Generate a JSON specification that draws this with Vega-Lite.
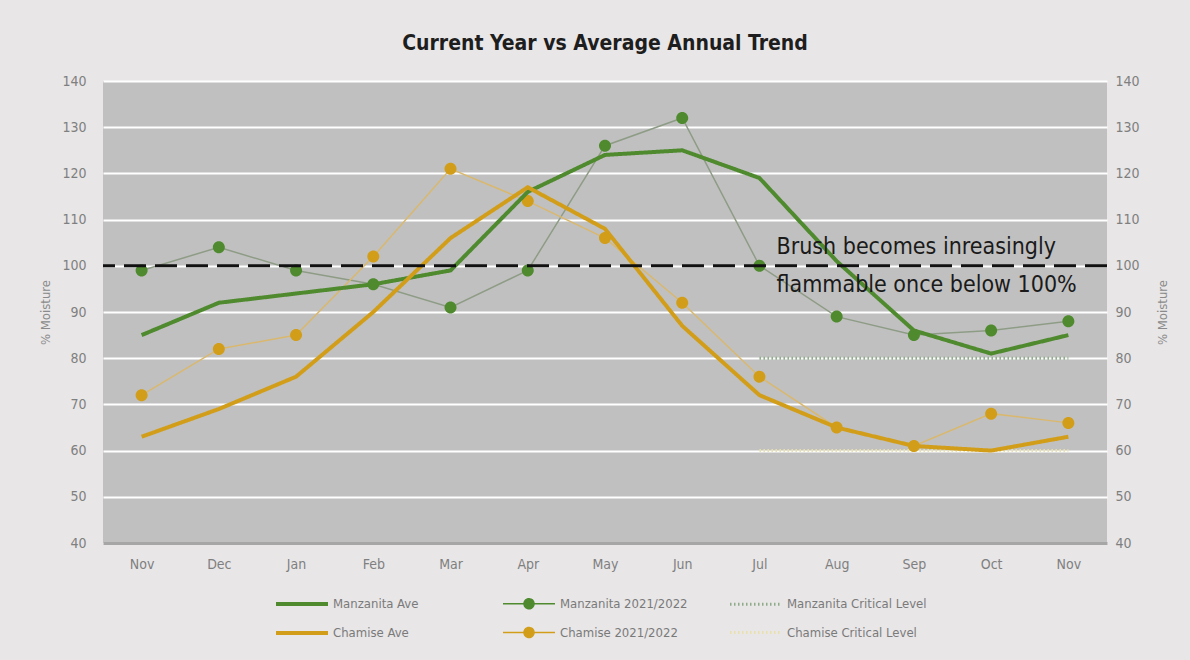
{
  "$schema": "https://vega.github.io/schema/vega-lite/v6.json",
  "width": 1004,
  "height": 462,
  "autosize": {"type": "none"},
  "padding": {"left": 103, "top": 81, "right": 83, "bottom": 117},
  "background": "#e8e6e7",
  "title": {"text": "Current Year vs Average Annual Trend", "font": "DejaVu Sans Condensed, Roboto, sans-serif", "fontSize": 21, "fontWeight": "bold", "color": "#1e1e1e", "frame": "group", "offset": 20, "anchor": "middle"},
  "config": {"view": {"fill": "#c0c0c0", "stroke": null}, "font": "DejaVu Sans Condensed, Roboto, sans-serif"},
  "data": {"values": [
    {"m": "Nov21", "series": "Manzanita Ave", "v": 85},
    {"m": "Dec", "series": "Manzanita Ave", "v": 92},
    {"m": "Jan", "series": "Manzanita Ave", "v": 94},
    {"m": "Feb", "series": "Manzanita Ave", "v": 96},
    {"m": "Mar", "series": "Manzanita Ave", "v": 99},
    {"m": "Apr", "series": "Manzanita Ave", "v": 116},
    {"m": "May", "series": "Manzanita Ave", "v": 124},
    {"m": "Jun", "series": "Manzanita Ave", "v": 125},
    {"m": "Jul", "series": "Manzanita Ave", "v": 119},
    {"m": "Aug", "series": "Manzanita Ave", "v": 101},
    {"m": "Sep", "series": "Manzanita Ave", "v": 86},
    {"m": "Oct", "series": "Manzanita Ave", "v": 81},
    {"m": "Nov22", "series": "Manzanita Ave", "v": 85},
    {"m": "Nov21", "series": "Manzanita 2021/2022", "v": 99},
    {"m": "Dec", "series": "Manzanita 2021/2022", "v": 104},
    {"m": "Jan", "series": "Manzanita 2021/2022", "v": 99},
    {"m": "Feb", "series": "Manzanita 2021/2022", "v": 96},
    {"m": "Mar", "series": "Manzanita 2021/2022", "v": 91},
    {"m": "Apr", "series": "Manzanita 2021/2022", "v": 99},
    {"m": "May", "series": "Manzanita 2021/2022", "v": 126},
    {"m": "Jun", "series": "Manzanita 2021/2022", "v": 132},
    {"m": "Jul", "series": "Manzanita 2021/2022", "v": 100},
    {"m": "Aug", "series": "Manzanita 2021/2022", "v": 89},
    {"m": "Sep", "series": "Manzanita 2021/2022", "v": 85},
    {"m": "Oct", "series": "Manzanita 2021/2022", "v": 86},
    {"m": "Nov22", "series": "Manzanita 2021/2022", "v": 88},
    {"m": "Nov21", "series": "Chamise Ave", "v": 63},
    {"m": "Dec", "series": "Chamise Ave", "v": 69},
    {"m": "Jan", "series": "Chamise Ave", "v": 76},
    {"m": "Feb", "series": "Chamise Ave", "v": 90},
    {"m": "Mar", "series": "Chamise Ave", "v": 106},
    {"m": "Apr", "series": "Chamise Ave", "v": 117},
    {"m": "May", "series": "Chamise Ave", "v": 108},
    {"m": "Jun", "series": "Chamise Ave", "v": 87},
    {"m": "Jul", "series": "Chamise Ave", "v": 72},
    {"m": "Aug", "series": "Chamise Ave", "v": 65},
    {"m": "Sep", "series": "Chamise Ave", "v": 61},
    {"m": "Oct", "series": "Chamise Ave", "v": 60},
    {"m": "Nov22", "series": "Chamise Ave", "v": 63},
    {"m": "Nov21", "series": "Chamise 2021/2022", "v": 72},
    {"m": "Dec", "series": "Chamise 2021/2022", "v": 82},
    {"m": "Jan", "series": "Chamise 2021/2022", "v": 85},
    {"m": "Feb", "series": "Chamise 2021/2022", "v": 102},
    {"m": "Mar", "series": "Chamise 2021/2022", "v": 121},
    {"m": "Apr", "series": "Chamise 2021/2022", "v": 114},
    {"m": "May", "series": "Chamise 2021/2022", "v": 106},
    {"m": "Jun", "series": "Chamise 2021/2022", "v": 92},
    {"m": "Jul", "series": "Chamise 2021/2022", "v": 76},
    {"m": "Aug", "series": "Chamise 2021/2022", "v": 65},
    {"m": "Sep", "series": "Chamise 2021/2022", "v": 61},
    {"m": "Oct", "series": "Chamise 2021/2022", "v": 68},
    {"m": "Nov22", "series": "Chamise 2021/2022", "v": 66},
    {"m": "Jul", "series": "Manzanita Critical Level", "v": 80},
    {"m": "Aug", "series": "Manzanita Critical Level", "v": 80},
    {"m": "Sep", "series": "Manzanita Critical Level", "v": 80},
    {"m": "Oct", "series": "Manzanita Critical Level", "v": 80},
    {"m": "Nov22", "series": "Manzanita Critical Level", "v": 80},
    {"m": "Jul", "series": "Chamise Critical Level", "v": 60},
    {"m": "Aug", "series": "Chamise Critical Level", "v": 60},
    {"m": "Sep", "series": "Chamise Critical Level", "v": 60},
    {"m": "Oct", "series": "Chamise Critical Level", "v": 60},
    {"m": "Nov22", "series": "Chamise Critical Level", "v": 60}
  ]},
  "layer": [
    {
      "encoding": {
        "y": {"field": "v", "type": "quantitative",
          "scale": {"domain": [40, 140], "nice": false, "zero": false},
          "axis": {"orient": "left", "title": "% Moisture", "values": [40, 50, 60, 70, 80, 90, 100, 110, 120, 130, 140],
            "labelFontSize": 14, "labelColor": "#7f7f7f", "labelPadding": 17, "ticks": false, "domain": false,
            "grid": true, "gridColor": "#ffffff", "gridWidth": 2,
            "titleFontSize": 13, "titleColor": "#8a8a8a", "titleFontWeight": "normal", "titlePadding": 9}}
      },
      "layer": [
        {
          "transform": [{"filter": {"field": "series", "oneOf": ["Manzanita Critical Level", "Chamise Critical Level"]}}],
          "mark": {"type": "line"},
          "encoding": {
            "x": {"field": "m", "type": "ordinal", "scale": {"type": "point", "padding": 0.5, "domain": ["Nov21", "Dec", "Jan", "Feb", "Mar", "Apr", "May", "Jun", "Jul", "Aug", "Sep", "Oct", "Nov22"]},
              "axis": {"title": null, "labelFontSize": 14, "labelColor": "#7f7f7f", "labelAngle": 0, "ticks": false, "domainColor": "#a6a6a6", "domainWidth": 3, "labelPadding": 14, "labelExpr": "slice(datum.label, 0, 3)", "grid": false}},
            "color": {"field": "series", "type": "nominal",
              "scale": {"domain": ["Manzanita Ave", "Manzanita 2021/2022", "Manzanita Critical Level", "Chamise Ave", "Chamise 2021/2022", "Chamise Critical Level"],
                "range": ["#4f8a2f", "#4f8a2f", "#8dab88", "#d29e1a", "#d29e1a", "#e9e1ac"]},
              "legend": {"orient": "none", "legendX": 171, "legendY": 516, "columns": 3, "title": null, "direction": "horizontal",
                "labelFontSize": 13, "labelColor": "#7a7a7a", "symbolSize": 100, "symbolOffset": 21, "labelOffset": 24,
                "columnPadding": 24, "rowPadding": 12, "gridAlign": "all"}},
            "strokeDash": {"field": "series", "type": "nominal",
              "scale": {"type": "ordinal", "domain": ["Manzanita Ave", "Manzanita 2021/2022", "Manzanita Critical Level", "Chamise Ave", "Chamise 2021/2022", "Chamise Critical Level"],
                "range": [[1, 0], [1, 0], [1.5, 2.5], [1, 0], [1, 0], [1.5, 2.5]]},
              "legend": {"orient": "none", "legendX": 171, "legendY": 516, "columns": 3, "title": null, "direction": "horizontal",
                "labelFontSize": 13, "labelColor": "#7a7a7a", "symbolSize": 100, "symbolOffset": 21, "labelOffset": 24,
                "columnPadding": 24, "rowPadding": 12, "gridAlign": "all"}},
            "strokeWidth": {"field": "series", "type": "nominal",
              "scale": {"type": "ordinal", "domain": ["Manzanita Ave", "Manzanita 2021/2022", "Manzanita Critical Level", "Chamise Ave", "Chamise 2021/2022", "Chamise Critical Level"],
                "range": [4, 1.5, 3, 4, 1.5, 3]},
              "legend": {"orient": "none", "legendX": 171, "legendY": 516, "columns": 3, "title": null, "direction": "horizontal",
                "labelFontSize": 13, "labelColor": "#7a7a7a", "symbolSize": 100, "symbolOffset": 21, "labelOffset": 24,
                "columnPadding": 24, "rowPadding": 12, "gridAlign": "all"}}
          }
        },
        {
          "transform": [{"filter": {"field": "series", "oneOf": ["Manzanita 2021/2022", "Chamise 2021/2022"]}}],
          "mark": {"type": "line", "strokeWidth": 1.5},
          "encoding": {
            "x": {"field": "m", "type": "ordinal", "scale": {"type": "point", "padding": 0.5, "domain": ["Nov21", "Dec", "Jan", "Feb", "Mar", "Apr", "May", "Jun", "Jul", "Aug", "Sep", "Oct", "Nov22"]}},
            "stroke": {"field": "series", "type": "nominal", "scale": {"domain": ["Manzanita 2021/2022", "Chamise 2021/2022"], "range": ["#8e9c86", "#d9b86e"]}, "legend": null}
          }
        },
        {
          "transform": [{"filter": {"field": "series", "oneOf": ["Manzanita 2021/2022", "Chamise 2021/2022"]}}],
          "mark": {"type": "point", "filled": true, "size": 144, "opacity": 1},
          "encoding": {
            "x": {"field": "m", "type": "ordinal", "scale": {"type": "point", "padding": 0.5, "domain": ["Nov21", "Dec", "Jan", "Feb", "Mar", "Apr", "May", "Jun", "Jul", "Aug", "Sep", "Oct", "Nov22"]}},
            "color": {"field": "series", "type": "nominal",
              "scale": {"domain": ["Manzanita Ave", "Manzanita 2021/2022", "Manzanita Critical Level", "Chamise Ave", "Chamise 2021/2022", "Chamise Critical Level"],
                "range": ["#4f8a2f", "#4f8a2f", "#8dab88", "#d29e1a", "#d29e1a", "#e9e1ac"]},
              "legend": {"orient": "none", "legendX": 171, "legendY": 516, "columns": 3, "title": null, "direction": "horizontal",
                "labelFontSize": 13, "labelColor": "#7a7a7a", "symbolSize": 100, "symbolOffset": 21, "labelOffset": 24,
                "columnPadding": 24, "rowPadding": 12, "gridAlign": "all"}},
            "shape": {"field": "series", "type": "nominal",
              "scale": {"domain": ["Manzanita Ave", "Manzanita 2021/2022", "Manzanita Critical Level", "Chamise Ave", "Chamise 2021/2022", "Chamise Critical Level"],
                "range": ["M-5.2,0H5.2", "M-5.2,0H5.2M1,0A1,1,0,1,1,-1,0A1,1,0,1,1,1,0Z", "M-5.2,0H5.2", "M-5.2,0H5.2", "M-5.2,0H5.2M1,0A1,1,0,1,1,-1,0A1,1,0,1,1,1,0Z", "M-5.2,0H5.2"]},
              "legend": {"orient": "none", "legendX": 171, "legendY": 516, "columns": 3, "title": null, "direction": "horizontal",
                "labelFontSize": 13, "labelColor": "#7a7a7a", "symbolSize": 100, "symbolOffset": 21, "labelOffset": 24,
                "columnPadding": 24, "rowPadding": 12, "gridAlign": "all"}}
          }
        },
        {
          "transform": [{"filter": {"field": "series", "oneOf": ["Manzanita Ave", "Chamise Ave"]}}],
          "mark": {"type": "line"},
          "encoding": {
            "x": {"field": "m", "type": "ordinal", "scale": {"type": "point", "padding": 0.5, "domain": ["Nov21", "Dec", "Jan", "Feb", "Mar", "Apr", "May", "Jun", "Jul", "Aug", "Sep", "Oct", "Nov22"]}},
            "color": {"field": "series", "type": "nominal",
              "scale": {"domain": ["Manzanita Ave", "Manzanita 2021/2022", "Manzanita Critical Level", "Chamise Ave", "Chamise 2021/2022", "Chamise Critical Level"],
                "range": ["#4f8a2f", "#4f8a2f", "#8dab88", "#d29e1a", "#d29e1a", "#e9e1ac"]},
              "legend": {"orient": "none", "legendX": 171, "legendY": 516, "columns": 3, "title": null, "direction": "horizontal",
                "labelFontSize": 13, "labelColor": "#7a7a7a", "symbolSize": 100, "symbolOffset": 21, "labelOffset": 24,
                "columnPadding": 24, "rowPadding": 12, "gridAlign": "all"}},
            "strokeDash": {"field": "series", "type": "nominal",
              "scale": {"type": "ordinal", "domain": ["Manzanita Ave", "Manzanita 2021/2022", "Manzanita Critical Level", "Chamise Ave", "Chamise 2021/2022", "Chamise Critical Level"],
                "range": [[1, 0], [1, 0], [1.5, 2.5], [1, 0], [1, 0], [1.5, 2.5]]},
              "legend": {"orient": "none", "legendX": 171, "legendY": 516, "columns": 3, "title": null, "direction": "horizontal",
                "labelFontSize": 13, "labelColor": "#7a7a7a", "symbolSize": 100, "symbolOffset": 21, "labelOffset": 24,
                "columnPadding": 24, "rowPadding": 12, "gridAlign": "all"}},
            "strokeWidth": {"field": "series", "type": "nominal",
              "scale": {"type": "ordinal", "domain": ["Manzanita Ave", "Manzanita 2021/2022", "Manzanita Critical Level", "Chamise Ave", "Chamise 2021/2022", "Chamise Critical Level"],
                "range": [4, 1.5, 3, 4, 1.5, 3]},
              "legend": {"orient": "none", "legendX": 171, "legendY": 516, "columns": 3, "title": null, "direction": "horizontal",
                "labelFontSize": 13, "labelColor": "#7a7a7a", "symbolSize": 100, "symbolOffset": 21, "labelOffset": 24,
                "columnPadding": 24, "rowPadding": 12, "gridAlign": "all"}}
          }
        },
        {
          "data": {"values": [{"v": 100}]},
          "mark": {"type": "rule", "color": "#111111", "strokeWidth": 3, "strokeDash": [22, 9]},
          "encoding": {}
        },
        {
          "data": {"values": [{"m": "Jul", "v": 100, "note": "Brush becomes inreasingly\nflammable once below 100%"}]},
          "mark": {"type": "text", "align": "left", "baseline": "middle", "dx": 17, "dy": -19, "fontSize": 23, "lineHeight": 38, "lineBreak": "\n", "color": "#1a1a1a"},
          "encoding": {
            "x": {"field": "m", "type": "ordinal", "scale": {"type": "point", "padding": 0.5, "domain": ["Nov21", "Dec", "Jan", "Feb", "Mar", "Apr", "May", "Jun", "Jul", "Aug", "Sep", "Oct", "Nov22"]}},
            "text": {"field": "note", "type": "nominal"}
          }
        }
      ]
    },
    {
      "mark": {"type": "point", "opacity": 0},
      "encoding": {
        "x": {"field": "m", "type": "ordinal", "scale": {"type": "point", "padding": 0.5, "domain": ["Nov21", "Dec", "Jan", "Feb", "Mar", "Apr", "May", "Jun", "Jul", "Aug", "Sep", "Oct", "Nov22"]}},
        "y": {"field": "v", "type": "quantitative",
          "scale": {"domain": [40, 140], "nice": false, "zero": false},
          "axis": {"orient": "right", "title": "% Moisture", "values": [40, 50, 60, 70, 80, 90, 100, 110, 120, 130, 140],
            "labelFontSize": 14, "labelColor": "#7f7f7f", "labelPadding": 8, "ticks": false, "domain": false, "grid": false,
            "titleFontSize": 13, "titleColor": "#8a8a8a", "titleFontWeight": "normal", "titlePadding": 30, "titleAngle": 270}}
      }
    }
  ],
  "resolve": {"scale": {"y": "independent"}}
}
